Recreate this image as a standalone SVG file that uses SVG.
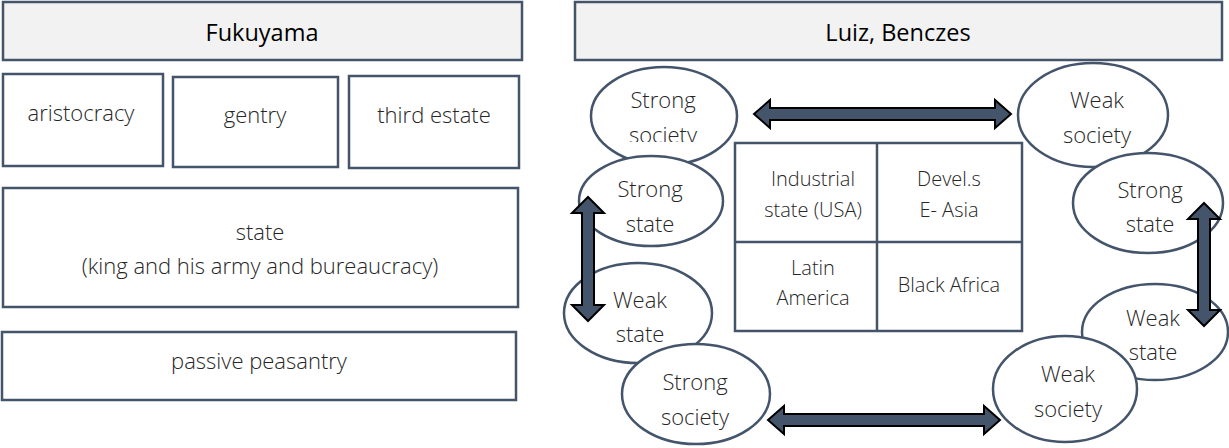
<svg xmlns="http://www.w3.org/2000/svg" width="1229" height="448" viewBox="0 0 1229 448">
<style>
.box{fill:#ffffff;stroke:#44546A;stroke-width:2.5}
.hdr{fill:#F2F2F2;stroke:#44546A;stroke-width:2.5}
.ell{fill:#ffffff;stroke:#44546A;stroke-width:2.5}
.t{font-family:"Open Sans","Liberation Sans",sans-serif;font-weight:300;fill:#262626;text-anchor:middle}
.tl{font-size:22px}
.te{font-size:22px}
.tg{font-size:20px}
.th{font-family:"Open Sans","Liberation Sans",sans-serif;font-weight:400;fill:#000000;text-anchor:middle;font-size:23.5px}
.arr{fill:#44546A;stroke:#000000;stroke-width:2;stroke-linejoin:miter}
</style>
<defs>
<clipPath id="clipSS"><rect x="590" y="60" width="150" height="82"/></clipPath>
</defs>
<g id="fukuyama-header">
<rect class="hdr" x="3" y="2" width="519" height="58"/>
<text class="th" x="262" y="41">Fukuyama</text>
</g>
<g id="aristocracy">
<rect class="box" x="3" y="74" width="160" height="92"/>
<text class="t tl" x="81" y="121">aristocracy</text>
</g>
<g id="gentry">
<rect class="box" x="173" y="77" width="165" height="90"/>
<text class="t tl" x="255" y="123">gentry</text>
</g>
<g id="third-estate">
<rect class="box" x="349" y="76" width="170" height="92"/>
<text class="t tl" x="434" y="123">third estate</text>
</g>
<g id="state">
<rect class="box" x="3" y="188" width="515" height="119"/>
<text class="t tl" x="260" y="240">state</text>
<text class="t tl" x="260" y="274">(king and his army and bureaucracy)</text>
</g>
<g id="passive-peasantry">
<rect class="box" x="2" y="332" width="514" height="68"/>
<text class="t tl" x="259" y="369">passive peasantry</text>
</g>
<g id="luiz-header">
<rect class="hdr" x="575" y="2" width="647" height="58"/>
<text class="th" x="898" y="41">Luiz, Benczes</text>
</g>
<g id="grid">
<rect class="box" x="735" y="143" width="287" height="188"/>
<line x1="877" y1="143" x2="877" y2="331" stroke="#44546A" stroke-width="2.5"/>
<line x1="735" y1="242" x2="1022" y2="242" stroke="#44546A" stroke-width="2.5"/>
<text class="t tg" x="813" y="186">Industrial</text>
<text class="t tg" x="813" y="217">state (USA)</text>
<text class="t tg" x="949" y="186">Devel.s</text>
<text class="t tg" x="949" y="217">E- Asia</text>
<text class="t tg" x="813" y="275">Latin</text>
<text class="t tg" x="813" y="305">America</text>
<text class="t tg" x="949" y="292">Black Africa</text>
</g>
<g id="strong-society-top">
<ellipse class="ell" cx="664" cy="116" rx="73" ry="49"/>
<text class="t te" x="663" y="108">Strong</text>
<text class="t te" x="663" y="143" clip-path="url(#clipSS)">society</text>
</g>
<g id="strong-state-left">
<ellipse class="ell" cx="651" cy="201" rx="72" ry="45"/>
<text class="t te" x="650" y="197">Strong</text>
<text class="t te" x="650" y="232">state</text>
</g>
<g id="weak-state-left">
<ellipse class="ell" cx="638" cy="313" rx="74" ry="50"/>
<text class="t te" x="640" y="308">Weak</text>
<text class="t te" x="640" y="342">state</text>
</g>
<g id="strong-society-bottom">
<ellipse class="ell" cx="696" cy="394" rx="74" ry="50"/>
<text class="t te" x="695" y="390">Strong</text>
<text class="t te" x="695" y="425">society</text>
</g>
<g id="weak-society-top">
<ellipse class="ell" cx="1093" cy="115" rx="75" ry="52"/>
<text class="t te" x="1097" y="108">Weak</text>
<text class="t te" x="1097" y="143">society</text>
</g>
<g id="strong-state-right">
<ellipse class="ell" cx="1148" cy="203" rx="75" ry="50"/>
<text class="t te" x="1150" y="198">Strong</text>
<text class="t te" x="1150" y="232">state</text>
</g>
<g id="weak-state-right">
<ellipse class="ell" cx="1155" cy="332" rx="73" ry="48"/>
<text class="t te" x="1153" y="326">Weak</text>
<text class="t te" x="1153" y="360">state</text>
</g>
<g id="weak-society-bottom">
<ellipse class="ell" cx="1065" cy="389" rx="72" ry="53"/>
<text class="t te" x="1068" y="382">Weak</text>
<text class="t te" x="1068" y="417">society</text>
</g>
<g id="connectors">
<path class="arr" d="M754,114 L770,100 L770,108 L995,108 L995,100 L1011,114 L995,128 L995,120 L770,120 L770,128 Z"/>
<path class="arr" d="M768,420 L784,406 L784,414 L984,414 L984,406 L1000,420 L984,434 L984,426 L784,426 L784,434 Z"/>
<path class="arr" d="M588,197 L604,213 L594,213 L594,305 L604,305 L588,321 L572,305 L582,305 L582,213 L572,213 Z"/>
<path class="arr" d="M1204,203 L1220,219 L1210,219 L1210,310 L1220,310 L1204,326 L1188,310 L1198,310 L1198,219 L1188,219 Z"/>
</g>
</svg>
